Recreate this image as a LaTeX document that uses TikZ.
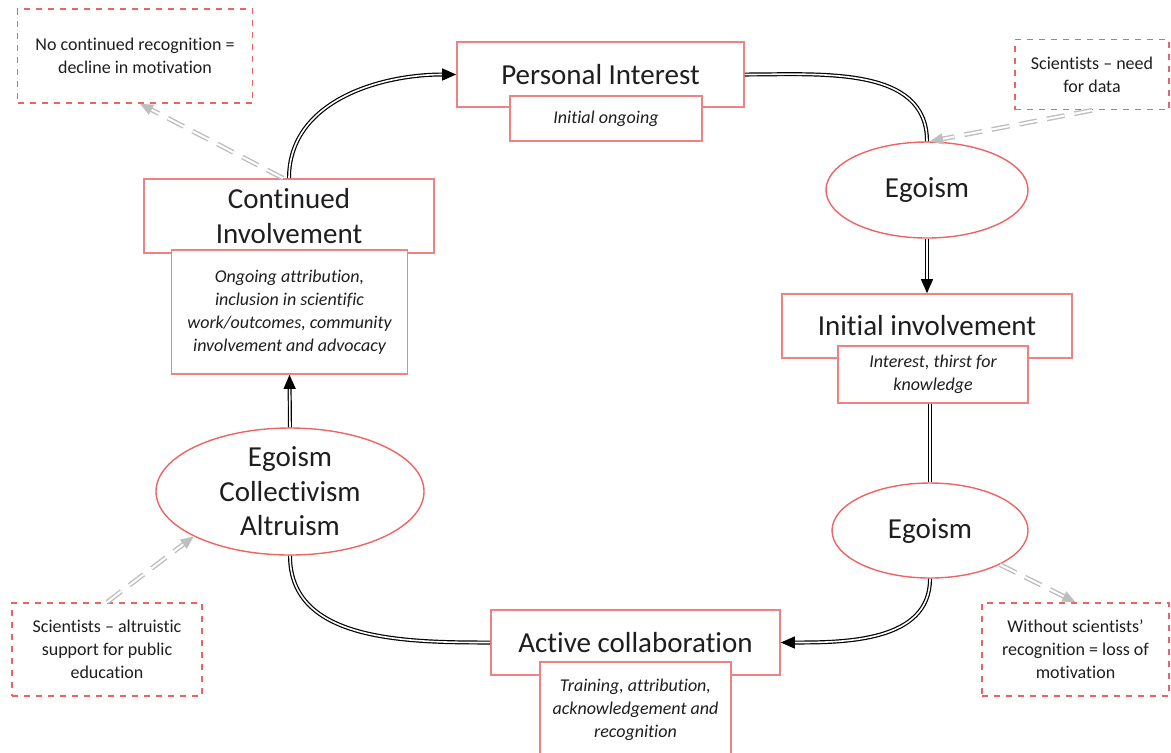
\documentclass[tikz,border=0pt]{standalone}
\usepackage{fontspec}
\setmainfont{Carlito}[Ligatures=NoCommon]
\usepackage{xcolor}
\definecolor{rose}{HTML}{EE8282}
\definecolor{roseline}{HTML}{EE6464}
\definecolor{notered}{HTML}{F06262}
\definecolor{ash}{HTML}{BEBEBE}
\definecolor{ink}{HTML}{1E1E1E}
\usepackage{tikz}
\usetikzlibrary{arrows.meta,positioning,calc,shapes.geometric}
\tikzset{
  >={Triangle[length=7pt,width=6pt]},
  stage/.style  ={draw=rose,fill=white,line width=0.8pt,text=ink,
                  font=\fontsize{14.5}{17.5}\selectfont,align=center,inner sep=2pt},
  detail/.style ={draw=rose,fill=white,line width=0.8pt,text=ink,
                  font=\fontsize{9}{11.5}\selectfont\itshape,align=center,inner sep=2pt},
  motive/.style ={ellipse,draw=roseline,fill=white,line width=0.7pt,text=ink,
                  font=\fontsize{14.5}{17.3}\selectfont,align=center,inner sep=0pt},
  remark/.style ={draw=notered,dashed,line width=0.8pt,text=ink,
                  font=\fontsize{9}{11.5}\selectfont,align=center,inner sep=2pt},
  flow/.style   ={draw=black,double=white,double distance=0.8pt,line width=0.6pt},
  cue/.style    ={draw=ash,double=white,double distance=1pt,line width=0.7pt,
                  dash pattern=on 9pt off 5pt,
                  -{Triangle[length=6.5pt,width=5.5pt]}},
}

\begin{document}
\begin{tikzpicture}[x=0.5pt,y=-0.5pt]
\useasboundingbox (0,0) rectangle (1171,752);

%================= stages of the cycle
\node[stage,minimum width=143.5pt,minimum height=32.5pt] (pint) at (600.5,74.5) {Personal Interest};
\node[detail,minimum width=96pt,minimum height=22.5pt] (pintsub) at (606,118.5) {Initial ongoing};

\node[stage,minimum width=145pt,minimum height=32pt] (init) at (927,326) {Initial involvement};
\node[detail,minimum width=95pt,minimum height=28.5pt] (initsub) at (933,374.5) {Interest, thirst for\\knowledge};

\node[stage,minimum width=144.5pt,minimum height=32.5pt] (active) at (635.5,642.5) {Active collaboration};
\node[detail,minimum width=95.5pt,minimum height=48pt] (activesub) at (635.5,710) {Training, attribution,\\acknowledgement and\\recognition};

\node[stage,minimum width=145pt,minimum height=37pt] (cont) at (289,216) {Continued\\Involvement};
\node[detail,minimum width=118pt,minimum height=62pt] (contsub) at (289.5,312)
  {Ongoing attribution,\\inclusion in scientific\\work/outcomes, community\\involvement and advocacy};

%================= motives
\node[motive,minimum width=101pt,minimum height=48pt] (egoA) at (927,190) {Egoism};
\node[motive,minimum width=98pt,minimum height=47.5pt] (egoB) at (930,530.5) {Egoism};
\node[motive,minimum width=134pt,minimum height=63.5pt,inner ysep=-4pt] (mixed) at (290,491.5)
  {Egoism\\Collectivism\\Altruism};

%================= remarks
\node[remark,minimum width=117.5pt,minimum height=47pt] (lossA) at (135,56) {No continued recognition =\\decline in motivation};
\node[remark,minimum width=77pt,minimum height=35pt] (needs) at (1092,74.5) {Scientists -- need\\for data};
\node[remark,minimum width=93.5pt,minimum height=46.5pt] (lossB) at (1075.5,649.5) {Without scientists’\\recognition = loss of\\motivation};
\node[remark,minimum width=95pt,minimum height=46.5pt] (altru) at (107,649.5) {Scientists -- altruistic\\support for public\\education};

%================= cycle connectors
\draw[flow,->] (cont.north) to[out=90,in=180] (pint.west);
\draw[flow] (pint.east) to[out=0,in=90] (egoA.north);
\draw[flow,->] (egoA.south) -- (init.north);
\draw[flow] (egoB.north |- initsub.south) -- (egoB.north);
\draw[flow,->] (egoB.south) to[out=-90,in=0] (active.east);
\draw[flow] (active.west) to[out=180,in=-90] (mixed.south);
\draw[flow,->] (mixed.north) -- (contsub.south);

%================= remark connectors
\draw[cue] ([xshift=-3pt]cont.north) -- ([xshift=2.5pt]lossA.south);
\draw[cue] (needs.south) -- ([xshift=1.5pt]egoA.north);
\draw[cue] (egoB.-26) -- (lossB.north);
\draw[cue] (altru.north) -- (mixed.205);
\end{tikzpicture}
\end{document}
